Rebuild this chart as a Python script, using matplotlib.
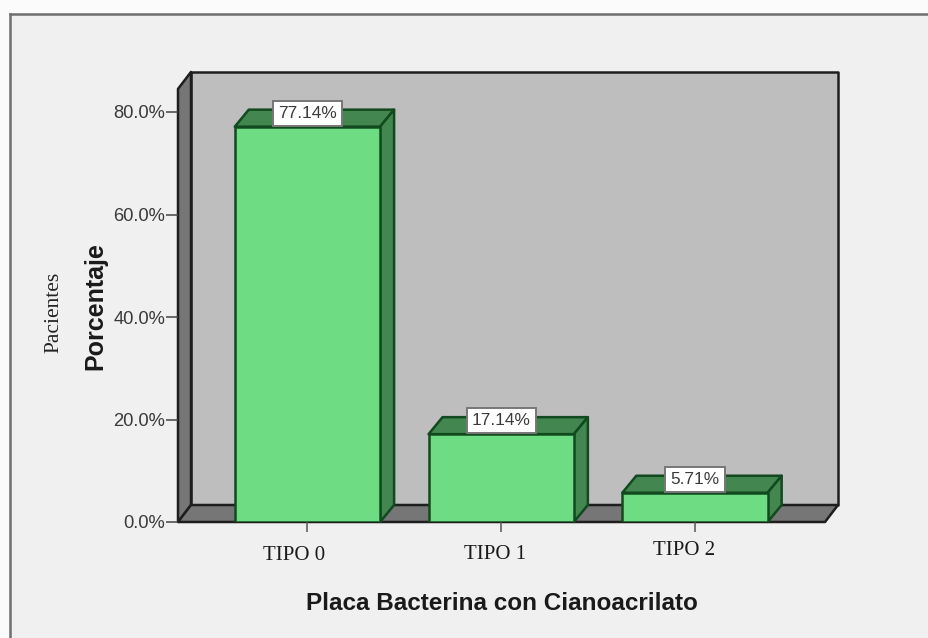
import matplotlib
matplotlib.use("Agg")
import matplotlib.pyplot as plt
from matplotlib.lines import Line2D
from matplotlib.patches import Polygon, Rectangle
from matplotlib.transforms import ScaledTranslation

categories = ["TIPO 0", "TIPO 1", "TIPO 2"]
values = [77.14, 17.14, 5.71]
y_ticks = [0, 20, 40, 60, 80]

W, H = 929, 638
fig = plt.figure(figsize=(W / 100, H / 100), dpi=100, facecolor="#fbfbfb")

# outer panel: fill reaches the right and bottom edges, only top and left are ruled
fig.add_artist(Rectangle((10 / W, 0), 1, (H - 14) / H, transform=fig.transFigure,
                         facecolor="#f0f0f0", edgecolor="none", zorder=-5))
fig.add_artist(Line2D([10 / W, 1], [(H - 14) / H] * 2, transform=fig.transFigure,
                      color="#6e6e6e", linewidth=1.8, zorder=-4))
fig.add_artist(Line2D([10 / W] * 2, [0, (H - 14) / H], transform=fig.transFigure,
                      color="#6e6e6e", linewidth=1.8, zorder=-4))

ax = fig.add_axes([178 / W, (H - 522) / H, 647 / W, 410 / H])
ax.patch.set_visible(False)
for s in ax.spines.values():
    s.set_visible(False)
ax.set_xlim(-0.668, 2.671)
ax.set_ylim(0, 80)

px_x = 193.75          # pixels per category
px_y = 5.125           # pixels per percent
ddx, ddy = 13 / px_x, 17 / px_y   # depth of the 3D box
bar_ddx = 14 / px_x
wall_top = 84.5
x0, x1 = ax.get_xlim()
EDGE = "#1e1e1e"

def face(pts, fc, ec, lw=1.8, z=1):
    ax.add_patch(Polygon(pts, closed=True, facecolor=fc, edgecolor=ec, linewidth=lw,
                         joinstyle="round", clip_on=False, zorder=z))

# walls and floor
face([(x0 + ddx, ddy), (x1 + ddx, ddy), (x1 + ddx, wall_top + ddy), (x0 + ddx, wall_top + ddy)], "#bebebe", EDGE)
face([(x0, 0), (x0 + ddx, ddy), (x0 + ddx, wall_top + ddy), (x0, wall_top)], "#767676", EDGE)
face([(x0, 0), (x1, 0), (x1 + ddx, ddy), (x0 + ddx, ddy)], "#767676", EDGE)

# bars
bw = 0.75
GREEN_E = "#114a1f"
for i, v in enumerate(values):
    l, r = i - bw / 2, i + bw / 2
    face([(l, v), (r, v), (r + bar_ddx, v + ddy), (l + bar_ddx, v + ddy)], "#43864f", GREEN_E, z=2)
    face([(r, 0), (r + bar_ddx, ddy), (r + bar_ddx, v + ddy), (r, v)], "#43864f", GREEN_E, z=2)
ax.bar(range(3), values, width=bw, color="#6edc82", edgecolor=GREEN_E, linewidth=1.8, zorder=3)

# value labels
for i, v in enumerate(values):
    ax.annotate(f"{v:.2f}%", (i, v), xytext=(0, 9.6), textcoords="offset points",
                ha="center", va="center", fontsize=12.4, family="Liberation Sans", color="#3a3a3a",
                bbox=dict(boxstyle="square,pad=0.3", facecolor="white", edgecolor="#777777", linewidth=1.4),
                zorder=5)

# axes ticks
ax.set_yticks(y_ticks, [f"{t:.1f}%" for t in y_ticks], family="Liberation Sans", fontsize=13.2, color="#3a3a3a")
ax.tick_params(axis="y", length=8.6, width=1.1, color="#444444", pad=0.5)
ax.set_xticks(range(3), categories, family="Liberation Serif", fontsize=15, color="#1a1a1a")
ax.tick_params(axis="x", length=7, width=1.1, color="#555555", pad=8)
shifts = [(-13, -3), (-6.5, -2), (-11, 2)]
for lab, (sx, sy) in zip(ax.get_xticklabels(), shifts):
    lab.set_transform(lab.get_transform() + ScaledTranslation(sx / 100, sy / 100, fig.dpi_scale_trans))

# titles
fig.text(501.5 / W, 1 - 603 / H, "Placa Bacterina con Cianoacrilato", ha="center", va="center",
         family="Liberation Sans", fontweight="bold", fontsize=17.5, color="#1a1a1a")
fig.text(95 / W, 1 - 306 / H, "Porcentaje", rotation=90, ha="center", va="center",
         family="Liberation Sans", fontweight="bold", fontsize=18, color="#1a1a1a")
fig.text(54 / W, 1 - 312 / H, "Pacientes", rotation=90, ha="center", va="center",
         family="Liberation Serif", fontsize=15.5, color="#222222")

fig.savefig("out.png", dpi=100, facecolor=fig.get_facecolor())
